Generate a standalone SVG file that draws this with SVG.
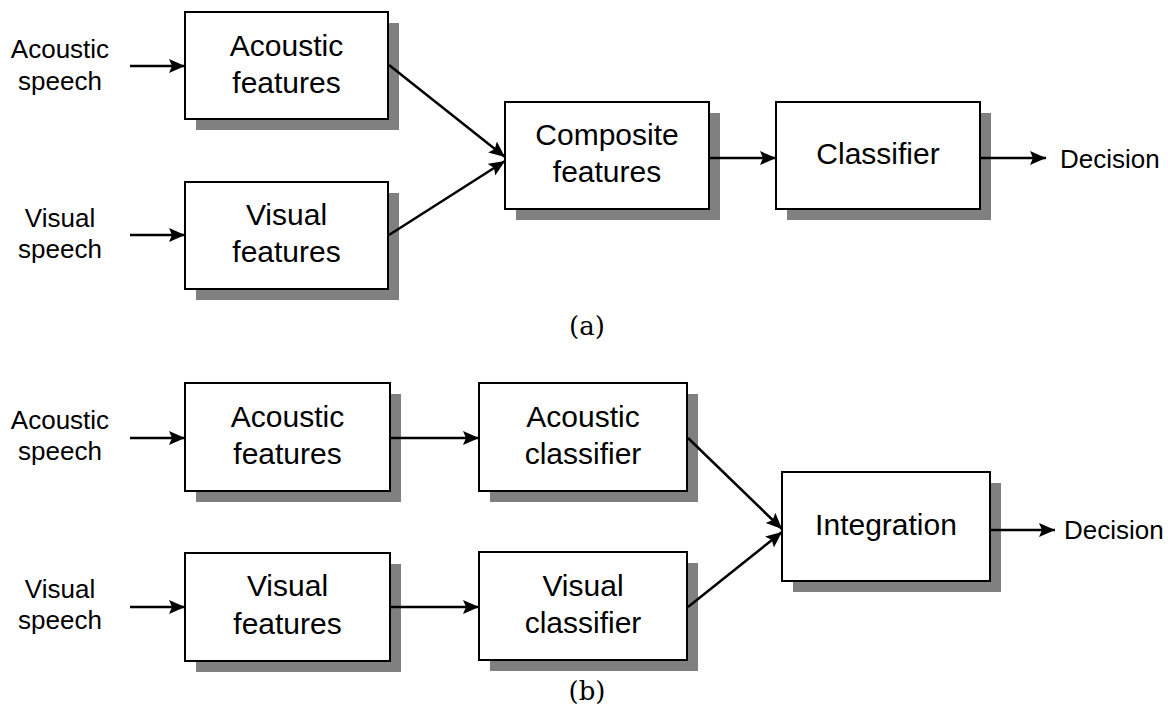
<svg xmlns="http://www.w3.org/2000/svg" width="1168" height="710" viewBox="0 0 1168 710">
<style>
.box{fill:#fff;stroke:#000;stroke-width:2}
.sh{fill:#808080}
.bt{font-family:"Liberation Sans",Arial,sans-serif;font-size:30px;text-anchor:middle;fill:#000}
.lb{font-family:"Liberation Sans",Arial,sans-serif;font-size:26px;text-anchor:middle;fill:#000}
.dc{font-family:"Liberation Sans",Arial,sans-serif;font-size:26px;fill:#000}
.cap{font-family:"DejaVu Serif","Liberation Serif",serif;font-size:26px;text-anchor:middle;fill:#000}
.ln{stroke:#000;stroke-width:2.5;fill:none;marker-end:url(#ah)}
</style>
<defs>
<marker id="ah" markerUnits="userSpaceOnUse" markerWidth="18" markerHeight="16" refX="16" refY="8" orient="auto" viewBox="0 0 18 16">
<path d="M0,1 L16,8 L0,15 L3,8 Z" fill="#000"/>
</marker>
</defs>
<rect width="1168" height="710" fill="#fff"/>

<g id="label-a-acoustic"><text class="lb" x="60" y="58">Acoustic</text><text class="lb" x="60" y="90">speech</text></g>
<g id="label-a-visual"><text class="lb" x="60" y="227">Visual</text><text class="lb" x="60" y="258">speech</text></g>

<g id="a-acoustic-features">
<rect class="sh" x="196" y="23" width="203" height="107"/>
<rect class="box" x="185" y="12" width="203" height="107"/>
<text class="bt" x="286.5" y="56">Acoustic</text><text class="bt" x="286.5" y="93">features</text>
</g>
<g id="a-visual-features">
<rect class="sh" x="196" y="193" width="203" height="107"/>
<rect class="box" x="185" y="182" width="203" height="107"/>
<text class="bt" x="286.5" y="225">Visual</text><text class="bt" x="286.5" y="262">features</text>
</g>
<g id="a-composite">
<rect class="sh" x="516" y="113" width="204" height="107"/>
<rect class="box" x="505" y="102" width="204" height="107"/>
<text class="bt" x="607" y="145">Composite</text><text class="bt" x="607" y="182">features</text>
</g>
<g id="a-classifier">
<rect class="sh" x="787" y="113" width="204" height="107"/>
<rect class="box" x="776" y="102" width="204" height="107"/>
<text class="bt" x="878" y="164">Classifier</text>
</g>
<g id="a-decision"><text class="dc" x="1060" y="168">Decision</text></g>
<g id="caption-a"><text class="cap" x="587" y="335">(a)</text></g>

<g id="label-b-acoustic"><text class="lb" x="60" y="429">Acoustic</text><text class="lb" x="60" y="460">speech</text></g>
<g id="label-b-visual"><text class="lb" x="60" y="598">Visual</text><text class="lb" x="60" y="629">speech</text></g>

<g id="b-acoustic-features">
<rect class="sh" x="196" y="394" width="205" height="108"/>
<rect class="box" x="185" y="383" width="205" height="108"/>
<text class="bt" x="287.5" y="427">Acoustic</text><text class="bt" x="287.5" y="464">features</text>
</g>
<g id="b-visual-features">
<rect class="sh" x="196" y="564" width="205" height="108"/>
<rect class="box" x="185" y="553" width="205" height="108"/>
<text class="bt" x="287.5" y="596">Visual</text><text class="bt" x="287.5" y="634">features</text>
</g>
<g id="b-acoustic-classifier">
<rect class="sh" x="490" y="394" width="208" height="108"/>
<rect class="box" x="479" y="383" width="208" height="108"/>
<text class="bt" x="583" y="427">Acoustic</text><text class="bt" x="583" y="464">classifier</text>
</g>
<g id="b-visual-classifier">
<rect class="sh" x="490" y="563" width="208" height="108"/>
<rect class="box" x="479" y="552" width="208" height="108"/>
<text class="bt" x="583" y="596">Visual</text><text class="bt" x="583" y="633">classifier</text>
</g>
<g id="b-integration">
<rect class="sh" x="793" y="483" width="208" height="109"/>
<rect class="box" x="782" y="472" width="208" height="109"/>
<text class="bt" x="886" y="535">Integration</text>
</g>
<g id="b-decision"><text class="dc" x="1064" y="539">Decision</text></g>
<g id="caption-b"><text class="cap" x="587" y="700">(b)</text></g>

<g id="connectors">
<line class="ln" x1="130" y1="66" x2="185" y2="66"/>
<line class="ln" x1="130" y1="235" x2="185" y2="235"/>
<line class="ln" x1="389" y1="65" x2="505" y2="157"/>
<line class="ln" x1="389" y1="235" x2="505" y2="161"/>
<line class="ln" x1="710" y1="158" x2="776" y2="158"/>
<line class="ln" x1="981" y1="158" x2="1046" y2="158"/>

<line class="ln" x1="130" y1="438" x2="185" y2="438"/>
<line class="ln" x1="130" y1="607" x2="185" y2="607"/>
<line class="ln" x1="391" y1="438" x2="479" y2="438"/>
<line class="ln" x1="391" y1="607" x2="479" y2="607"/>
<line class="ln" x1="688" y1="438" x2="782" y2="529"/>
<line class="ln" x1="688" y1="607" x2="782" y2="532"/>
<line class="ln" x1="991" y1="530" x2="1055" y2="530"/>
</g>
</svg>
